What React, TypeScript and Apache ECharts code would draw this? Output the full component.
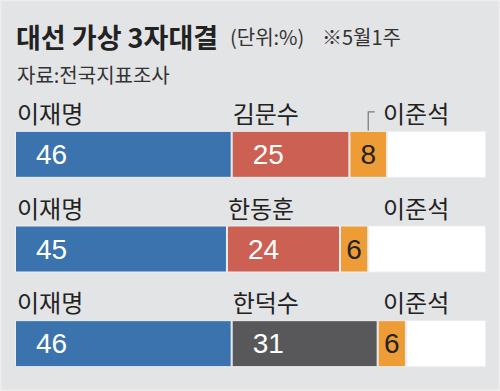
import React, { useEffect, useRef } from "react";
import * as echarts from "echarts";

const rows = ["r1", "r2", "r3"];
const leaderNames = ["이재명", "이재명", "이재명"];
const secondNames = ["김문수", "한동훈", "한덕수"];
const thirdNames = ["이준석", "이준석", "이준석"];
const leaderValues = [46, 45, 46];
const secondValues = [25, 24, 31];
const thirdValues = [8, 6, 6];
const restValues = [21, 25, 17];
const secondColors = ["#cc6153", "#cc6153", "#58585a"];

const title = "대선 가상 3자대결";
const unitText = "(단위:%)";
const dateText = "※5월1주";
const sourceText = "자료:전국지표조사";

const CJK = '"Noto Sans CJK KR", "Noto Sans", sans-serif';
const NUM = '"Liberation Sans Narrow", "Liberation Sans", Arial, sans-serif';

export default function App() {
  const ref = useRef<HTMLDivElement>(null);
  useEffect(() => {
    if (!ref.current) return;
    const chart = echarts.init(ref.current, null, { renderer: "svg" });
    const border = { borderColor: "#eceef0", borderWidth: 1 };
    const numLabel = {
      show: true,
      position: "insideLeft",
      distance: 21,
      color: "#ffffff",
      fontFamily: NUM,
      fontSize: 28,
    };
    chart.setOption({
      animation: false,
      backgroundColor: "#e3e4e6",
      grid: { left: 15, right: 14, top: 107, bottom: -9 },
      xAxis: { type: "value", min: 0, max: 100, show: false },
      yAxis: { type: "category", data: rows, inverse: true, show: false },
      series: [
        {
          type: "bar",
          stack: "s",
          barWidth: 47,
          data: leaderValues,
          itemStyle: { color: "#3a73ad", ...border },
          label: numLabel,
        },
        {
          type: "bar",
          stack: "s",
          barWidth: 47,
          data: secondValues.map((v, i) => ({ value: v, itemStyle: { color: secondColors[i] } })),
          itemStyle: { ...border },
          label: numLabel,
        },
        {
          type: "bar",
          stack: "s",
          barWidth: 47,
          data: thirdValues,
          itemStyle: { color: "#ee9c35", ...border },
          label: {
            show: true,
            position: "inside",
            color: "#222222",
            fontFamily: NUM,
            fontSize: 28,
          },
        },
        {
          type: "bar",
          stack: "s",
          barWidth: 47,
          data: restValues,
          itemStyle: { color: "#ffffff", ...border },
          label: { show: false },
        },
      ],
    });

    const thirdNameX = 383;
    const graphics: any[] = [
      {
        type: "rect",
        shape: { x: 0.5, y: 0.5, width: 499, height: 390 },
        style: { fill: "none", stroke: "#eeeeee", lineWidth: 1.5 },
        silent: true,
      },
      {
        type: "text",
        x: 16,
        y: 36,
        style: { text: title, font: `bold 27px ${CJK}`, fill: "#222222", verticalAlign: "middle" },
      },
      {
        type: "text",
        x: 230,
        y: 36,
        style: { text: unitText, font: `20px ${CJK}`, fill: "#333333", verticalAlign: "middle" },
      },
      {
        type: "text",
        x: 322,
        y: 36,
        style: { text: dateText, font: `20px ${CJK}`, fill: "#333333", verticalAlign: "middle" },
      },
      {
        type: "text",
        x: 17,
        y: 74,
        style: { text: sourceText, font: `20px ${CJK}`, fill: "#333333", verticalAlign: "middle" },
      },
    ];

    rows.forEach((r, i) => {
      const yc = chart.convertToPixel({ yAxisIndex: 0 }, r) as number;
      const x0 = chart.convertToPixel({ xAxisIndex: 0 }, 0) as number;
      const x1 = chart.convertToPixel({ xAxisIndex: 0 }, leaderValues[i]) as number;
      const ny = yc - 42;
      const nameStyle = (t: string) => ({
        text: t,
        font: `24px ${CJK}`,
        fill: "#222222",
        verticalAlign: "middle",
      });
      graphics.push(
        { type: "text", x: x0 + 2, y: ny, style: nameStyle(leaderNames[i]) },
        { type: "text", x: x1 + 1, y: ny, style: nameStyle(secondNames[i]) },
        { type: "text", x: thirdNameX, y: ny, style: nameStyle(thirdNames[i]) }
      );
      if (i === 0) {
        const xc = chart.convertToPixel(
          { xAxisIndex: 0 },
          leaderValues[i] + secondValues[i] + thirdValues[i] / 2
        ) as number;
        graphics.push({
          type: "polyline",
          shape: {
            points: [
              [xc + 6.5, ny - 0.5],
              [xc, ny - 0.5],
              [xc, yc - 23.5],
            ],
          },
          style: { stroke: "#7a7a7a", lineWidth: 1.2, fill: "none" },
        });
      }
    });
    chart.setOption({ graphic: graphics });

    return () => chart.dispose();
  }, []);
  return (
    <div
      ref={ref}
      style={{ position: "fixed", left: 0, top: 0, width: 500, height: 391 }}
    />
  );
}
